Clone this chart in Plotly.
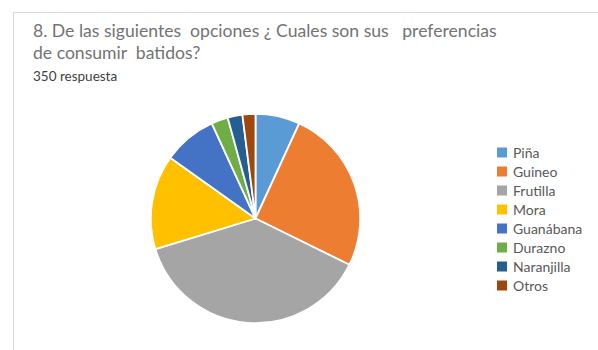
import plotly.graph_objects as go

# Survey answers: preferred smoothie flavours (350 responses)
labels = ["Piña", "Guineo", "Frutilla", "Mora", "Guanábana", "Durazno", "Naranjilla", "Otros"]
values = [24, 89, 133, 51, 29, 9, 8, 7]
colors = ["#5B9BD5", "#ED7D31", "#A5A5A5", "#FFC000", "#4472C4", "#70AD47", "#255E91", "#9E480E"]

title_lines = ["8. De las siguientes  opciones ¿ Cuales son sus   preferencias",
               "de consumir  batidos?"]
subtitle = "350 respuesta"

W, H = 598, 350
FONT = "Lato, 'Liberation Sans', sans-serif"
TEXT_COLOR = "#595959"


def px(x):
    return x / W


def py(y):
    return 1 - y / H


fig = go.Figure()

cx, cy, r = 255.5, 218.5, 104.7
fig.add_trace(go.Pie(
    labels=labels,
    values=values,
    marker=dict(colors=colors, line=dict(color="white", width=1.8)),
    sort=False,
    direction="clockwise",
    rotation=0,
    textinfo="none",
    hoverinfo="label+value+percent",
    showlegend=False,
    domain=dict(x=[px(cx - r), px(cx + r)], y=[py(cy + r), py(cy - r)]),
))

# Card frame (top and left edges)
fig.add_shape(type="line", xref="paper", yref="paper",
              x0=px(13.5), x1=1.02, y0=py(12.5), y1=py(12.5),
              line=dict(color="#D9D9D9", width=1))
fig.add_shape(type="line", xref="paper", yref="paper",
              x0=px(13.5), x1=px(13.5), y0=py(12.5), y1=-0.02,
              line=dict(color="#D9D9D9", width=1))

# Title and subtitle
for i, line in enumerate(title_lines):
    fig.add_annotation(text=line, xref="paper", yref="paper",
                       x=px(30.5), y=py(30 + 22.6 * i), xanchor="left", yanchor="middle",
                       showarrow=False, font=dict(family=FONT, size=17.6, color="#737373"))
fig.add_annotation(text=subtitle, xref="paper", yref="paper",
                   x=px(30.5), y=py(76), xanchor="left", yanchor="middle",
                   showarrow=False, font=dict(family=FONT, size=13.5, color="#404040"))

# Legend: colour swatch + label per category
for i, (lab, col) in enumerate(zip(labels, colors)):
    yc = 152.5 + 19 * i
    fig.add_shape(type="rect", xref="paper", yref="paper",
                  x0=px(497), x1=px(507), y0=py(yc + 5), y1=py(yc - 5),
                  fillcolor=col, line=dict(width=0))
    fig.add_annotation(text=lab, xref="paper", yref="paper",
                       x=px(511), y=py(yc), xanchor="left", yanchor="middle",
                       showarrow=False, font=dict(family=FONT, size=14, color=TEXT_COLOR))

fig.update_layout(
    width=W, height=H,
    margin=dict(l=0, r=0, t=0, b=0),
    paper_bgcolor="white",
    plot_bgcolor="white",
)

fig.write_html("out.html")
